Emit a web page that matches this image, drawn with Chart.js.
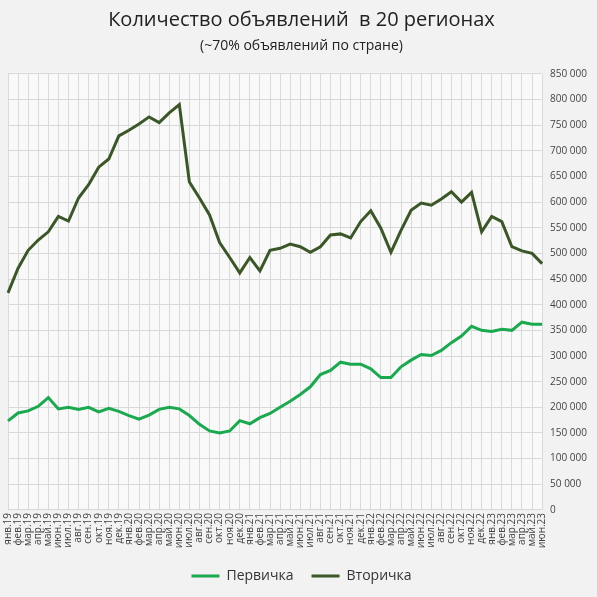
<!DOCTYPE html>
<html>
<head>
<meta charset="utf-8">
<script src="https://cdn.jsdelivr.net/npm/chart.js@4.4.1/dist/chart.umd.min.js"></script>
<style>
  html, body { margin: 0; padding: 0; background: #f2f2f2; }
  #wrap { width: 597px; height: 597px; }
</style>
</head>
<body>
<div id="wrap"><canvas id="chart" width="597" height="597"></canvas></div>
<script>
// Месяцы
const months = [
  "янв.19","фев.19","мар.19","апр.19","май.19","июн.19","июл.19","авг.19","сен.19","окт.19","ноя.19","дек.19",
  "янв.20","фев.20","мар.20","апр.20","май.20","июн.20","июл.20","авг.20","сен.20","окт.20","ноя.20","дек.20",
  "янв.21","фев.21","мар.21","апр.21","май.21","июн.21","июл.21","авг.21","сен.21","окт.21","ноя.21","дек.21",
  "янв.22","фев.22","мар.22","апр.22","май.22","июн.22","июл.22","авг.22","сен.22","окт.22","ноя.22","дек.22",
  "янв.23","фев.23","мар.23","апр.23","май.23","июн.23"
];

// Первичка
const primary = [
  173500, 189000, 193000, 202000, 219000, 197000, 200000, 196000, 200000, 191000, 198000, 192000,
  184000, 177000, 185000, 196000, 200000, 197000, 184000, 167000, 154000, 150000, 154000, 174000,
  168000, 180000, 188000, 200000, 212000, 225000, 240000, 264000, 272000, 288000, 284000, 284000,
  275000, 258000, 258000, 279000, 292000, 303000, 301000, 311000, 326000, 339000, 358000, 350000,
  348000, 352000, 350000, 366000, 362000, 362000
];

// Вторичка
const secondary = [
  423000, 471000, 506000, 526000, 542000, 572000, 563000, 608000, 634000, 668000, 684000, 729000,
  740000, 752000, 766000, 755000, 774000, 790000, 639000, 608000, 575000, 521000, 492000, 462000,
  492000, 466000, 506000, 510000, 518000, 513000, 502000, 513000, 536000, 538000, 530000, 562000,
  583000, 549000, 502000, 545000, 584000, 598000, 594000, 606000, 620000, 600000, 619000, 542000,
  572000, 562000, 513000, 505000, 500000, 480000
];

const yMax = 850000;
const yStep = 50000;

const fmt = (v) => String(v).replace(/\B(?=(\d{3})+(?!\d))/g, " ");

// Фон области построения
const plotBg = {
  id: "plotBg",
  beforeDraw(chart) {
    const {ctx, chartArea: a} = chart;
    ctx.save();
    ctx.fillStyle = "#f9f9f9";
    ctx.fillRect(a.left, a.top, a.right - a.left, a.bottom - a.top);
    ctx.restore();
  }
};

const font = "'Open Sans', 'Noto Sans', sans-serif";

new Chart(document.getElementById("chart").getContext("2d"), {
  type: "line",
  data: {
    labels: months,
    datasets: [
      {
        label: "Первичка",
        data: primary,
        borderColor: "#1aa94f",
        backgroundColor: "#1aa94f",
        borderWidth: 3,
        pointRadius: 0,
        tension: 0
      },
      {
        label: "Вторичка",
        data: secondary,
        borderColor: "#3b5727",
        backgroundColor: "#3b5727",
        borderWidth: 3,
        pointRadius: 0,
        tension: 0
      }
    ]
  },
  options: {
    responsive: false,
    animation: false,
    layout: { padding: { left: 8, right: 2, top: 0, bottom: 4 } },
    plugins: {
      title: {
        display: true,
        text: "Количество объявлений  в 20 регионах",
        color: "#222",
        font: { family: font, size: 20, weight: "normal" },
        padding: { top: 8, bottom: 6 }
      },
      subtitle: {
        display: true,
        text: "(~70% объявлений по стране)",
        color: "#222",
        font: { family: font, size: 14, weight: "normal" },
        padding: { bottom: 19 }
      },
      legend: {
        position: "bottom",
        labels: {
          usePointStyle: true,
          pointStyle: "line",
          pointStyleWidth: 28,
          boxHeight: 3,
          color: "#333",
          font: { family: font, size: 14 },
          padding: 18
        }
      },
      tooltip: { enabled: false }
    },
    scales: {
      x: {
        offset: false,
        grid: { color: "#d9d9d9", drawTicks: false },
        border: { color: "#d9d9d9" },
        ticks: {
          autoSkip: false,
          maxRotation: 90,
          minRotation: 90,
          padding: 3,
          color: "#444",
          font: { family: font, size: 10 }
        }
      },
      y: {
        position: "right",
        min: 0,
        max: yMax,
        grid: { color: "#d9d9d9", drawTicks: false },
        border: { display: false },
        ticks: {
          stepSize: yStep,
          padding: 8,
          color: "#444",
          font: { family: font, size: 10 },
          callback: (v) => fmt(v)
        }
      }
    }
  },
  plugins: [plotBg]
});
</script>
</body>
</html>
